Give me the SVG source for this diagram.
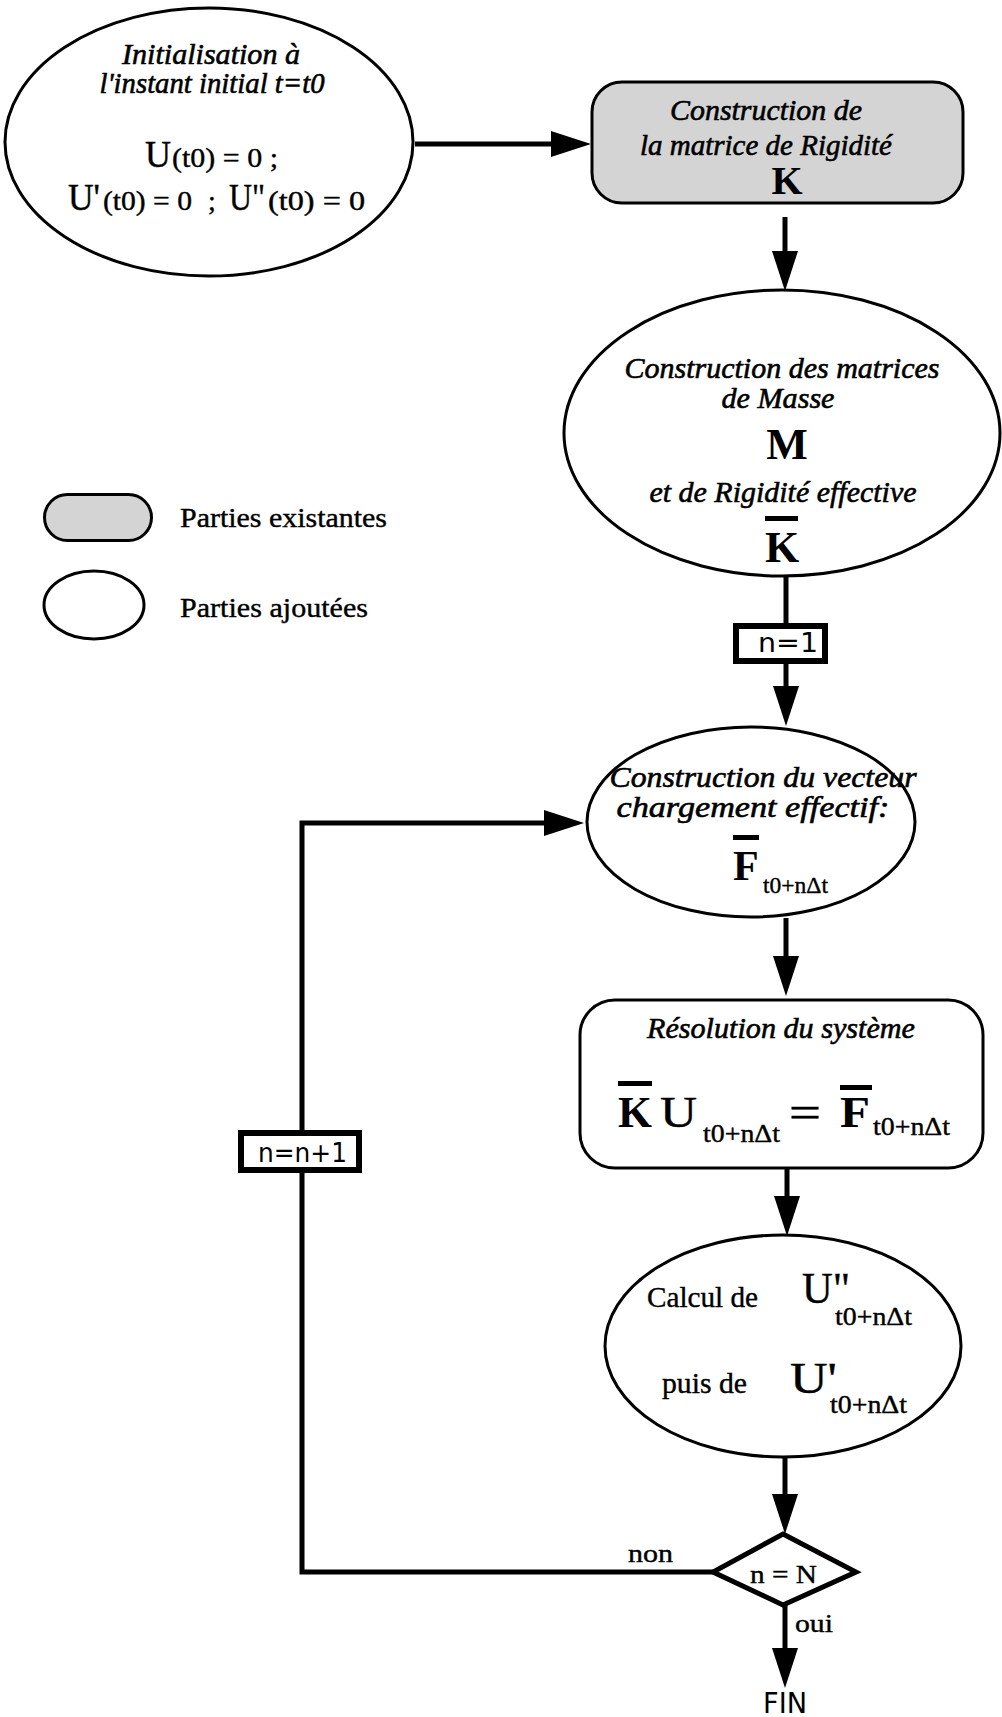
<svg xmlns="http://www.w3.org/2000/svg" width="1002" height="1717" viewBox="0 0 1002 1717">
<style>
.node{fill:#fff;stroke:#000;stroke-width:3}
.gray{fill:#d4d4d4;stroke:#000;stroke-width:3}
.it{font-family:"Liberation Serif",serif;font-style:italic;font-size:30px;fill:#000;stroke:#000;stroke-width:0.6;text-anchor:middle}
.rm{font-family:"Liberation Serif",serif;fill:#000;stroke:#000;stroke-width:0.4}
.bd{font-family:"Liberation Serif",serif;font-weight:bold;fill:#000}
.sans{font-family:"DejaVu Sans","Liberation Sans",sans-serif;fill:#000}
.conn{fill:none;stroke:#000;stroke-width:5}
.tag{fill:#fff;stroke:#000;stroke-width:6}
</style>
<defs>
<marker id="ah" markerUnits="userSpaceOnUse" markerWidth="42" markerHeight="28" viewBox="0 -14 42 28" refX="0" refY="0" orient="auto">
<path d="M0,-13 L40,0 L0,13 z" fill="#000"/>
</marker>
</defs>

<g id="connectors">
<line class="conn" x1="415" y1="144" x2="551" y2="144" marker-end="url(#ah)"/>
<line class="conn" x1="785" y1="217" x2="785" y2="251" marker-end="url(#ah)"/>
<line class="conn" x1="786" y1="577" x2="786" y2="625"/>
<line class="conn" x1="786" y1="661" x2="786" y2="686" marker-end="url(#ah)"/>
<line class="conn" x1="786" y1="918" x2="786" y2="956" marker-end="url(#ah)"/>
<line class="conn" x1="787" y1="1168" x2="787" y2="1196" marker-end="url(#ah)"/>
<line class="conn" x1="785" y1="1457" x2="785" y2="1494" marker-end="url(#ah)"/>
<line class="conn" x1="785" y1="1605" x2="785" y2="1648" marker-end="url(#ah)"/>
<polyline class="conn" points="713,1572 302,1572 302,823 544,823" marker-end="url(#ah)"/>
</g>

<g id="init">
<ellipse class="node" cx="209" cy="142" rx="204" ry="134"/>
<text class="it" x="211" y="64" font-size="23" textLength="178" lengthAdjust="spacingAndGlyphs">Initialisation à</text>
<text class="it" x="212" y="93" font-size="23" textLength="225" lengthAdjust="spacingAndGlyphs">l'instant initial t=t0</text>
<text class="rm" x="145" y="167" font-size="38" textLength="26" lengthAdjust="spacingAndGlyphs">U</text>
<text class="rm" x="172" y="167" font-size="28" textLength="106" lengthAdjust="spacingAndGlyphs">(t0) = 0 ;</text>
<text class="rm" x="68" y="210" font-size="37" textLength="32" lengthAdjust="spacingAndGlyphs">U'</text>
<text class="rm" x="103" y="210" font-size="28" textLength="89" lengthAdjust="spacingAndGlyphs">(t0) = 0</text>
<text class="rm" x="208" y="210" font-size="28">;</text>
<text class="rm" x="229" y="210" font-size="37" textLength="36" lengthAdjust="spacingAndGlyphs">U"</text>
<text class="rm" x="268" y="210" font-size="28" textLength="97" lengthAdjust="spacingAndGlyphs">(t0) = 0</text>
</g>

<g id="rigidite">
<rect class="gray" x="592" y="82" width="371" height="121" rx="30"/>
<text class="it" x="766" y="120" textLength="192" lengthAdjust="spacingAndGlyphs">Construction de</text>
<text class="it" x="766" y="155" textLength="252" lengthAdjust="spacingAndGlyphs">la matrice de Rigidité</text>
<text class="bd" x="787" y="194" font-size="40" text-anchor="middle">K</text>
</g>

<g id="masse">
<ellipse class="node" cx="782" cy="433" rx="218" ry="143"/>
<text class="it" x="782" y="378" textLength="315" lengthAdjust="spacingAndGlyphs">Construction des matrices</text>
<text class="it" x="778" y="408" textLength="113" lengthAdjust="spacingAndGlyphs">de Masse</text>
<text class="bd" x="787" y="459" font-size="44" text-anchor="middle">M</text>
<text class="it" x="783" y="502" textLength="267" lengthAdjust="spacingAndGlyphs">et de Rigidité effective</text>
<rect x="765" y="516" width="33" height="5" fill="#000"/>
<text class="bd" x="782" y="562" font-size="44" text-anchor="middle">K</text>
</g>

<g id="n1">
<rect class="tag" x="736" y="626" width="89" height="35"/>
<text class="sans" x="758" y="652" font-size="26" textLength="60" lengthAdjust="spacingAndGlyphs">n=1</text>
</g>

<g id="chargement">
<ellipse class="node" cx="751" cy="822" rx="164" ry="95"/>
<text class="it" x="763" y="787" textLength="307" lengthAdjust="spacingAndGlyphs">Construction du vecteur</text>
<text class="it" x="753" y="817" textLength="273" lengthAdjust="spacingAndGlyphs">chargement effectif:</text>
<rect x="733" y="835" width="26" height="5" fill="#000"/>
<text class="bd" x="733" y="880" font-size="42">F</text>
<text class="rm" x="763" y="893" font-size="24" textLength="65" lengthAdjust="spacingAndGlyphs">t0+nΔt</text>
</g>

<g id="resolution">
<rect class="node" x="580" y="1000" width="403" height="168" rx="35"/>
<text class="it" x="781" y="1038" textLength="268" lengthAdjust="spacingAndGlyphs">Résolution du système</text>
<rect x="618" y="1081" width="34" height="5" fill="#000"/>
<text class="bd" x="618" y="1127" font-size="44" textLength="34" lengthAdjust="spacingAndGlyphs">K</text>
<text class="rm" x="660" y="1127" font-size="44" textLength="37" lengthAdjust="spacingAndGlyphs">U</text>
<text class="rm" x="703" y="1142" font-size="26" textLength="77" lengthAdjust="spacingAndGlyphs">t0+nΔt</text>
<text class="rm" x="789" y="1127" font-size="44" textLength="32" lengthAdjust="spacingAndGlyphs">=</text>
<rect x="840" y="1085" width="32" height="5" fill="#000"/>
<text class="bd" x="840" y="1127" font-size="44" textLength="30" lengthAdjust="spacingAndGlyphs">F</text>
<text class="rm" x="873" y="1135" font-size="26" textLength="77" lengthAdjust="spacingAndGlyphs">t0+nΔt</text>
</g>

<g id="calcul">
<ellipse class="node" cx="783" cy="1346" rx="178" ry="111"/>
<text class="rm" x="647" y="1307" font-size="30" textLength="111" lengthAdjust="spacingAndGlyphs">Calcul de</text>
<text class="rm" x="802" y="1303" font-size="44" textLength="48" lengthAdjust="spacingAndGlyphs">U"</text>
<text class="rm" x="835" y="1325" font-size="26" textLength="77" lengthAdjust="spacingAndGlyphs">t0+nΔt</text>
<text class="rm" x="662" y="1393" font-size="30" textLength="85" lengthAdjust="spacingAndGlyphs">puis de</text>
<text class="rm" x="790" y="1393" font-size="44" textLength="47" lengthAdjust="spacingAndGlyphs">U'</text>
<text class="rm" x="830" y="1413" font-size="26" textLength="77" lengthAdjust="spacingAndGlyphs">t0+nΔt</text>
</g>

<g id="test">
<polygon class="node" points="783,1534 856,1572 783,1605 713,1572" style="stroke-width:5"/>
<text class="rm" x="750" y="1583" font-size="26" textLength="67" lengthAdjust="spacingAndGlyphs">n = N</text>
</g>

<g id="labels">
<text class="rm" x="628" y="1562" font-size="26" textLength="45" lengthAdjust="spacingAndGlyphs">non</text>
<text class="rm" x="795" y="1632" font-size="26" textLength="38" lengthAdjust="spacingAndGlyphs">oui</text>
</g>

<g id="fin">
<text class="sans" x="763" y="1713" font-size="29" textLength="44" lengthAdjust="spacingAndGlyphs">FIN</text>
</g>

<g id="increment">
<rect class="tag" x="241" y="1133" width="118" height="37"/>
<text class="sans" x="258" y="1162" font-size="26" textLength="89" lengthAdjust="spacingAndGlyphs">n=n+1</text>
</g>

<g id="legend-existantes">
<rect class="gray" x="44.5" y="494.5" width="107" height="46" rx="23"/>
<text class="rm" x="180" y="527" font-size="28" textLength="207" lengthAdjust="spacingAndGlyphs">Parties existantes</text>
</g>
<g id="legend-ajoutees">
<ellipse class="node" cx="94" cy="605" rx="50" ry="34"/>
<text class="rm" x="180" y="617" font-size="28" textLength="188" lengthAdjust="spacingAndGlyphs">Parties ajoutées</text>
</g>
</svg>
